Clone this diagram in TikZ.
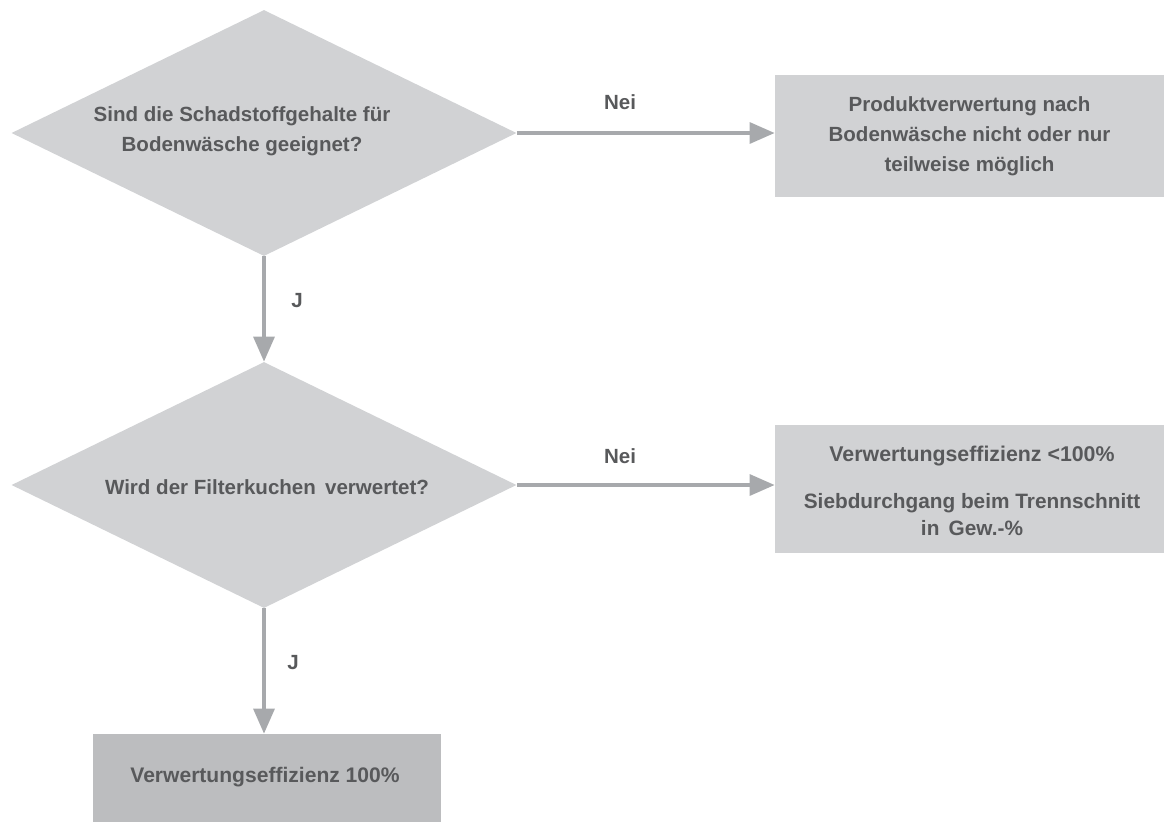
\documentclass[tikz,border=0pt]{standalone}
\usepackage{fontspec}
\setmainfont{Liberation Sans}
\usetikzlibrary{arrows.meta,shapes.geometric}
\definecolor{boxgray}{HTML}{D1D2D4}
\definecolor{darkbox}{HTML}{BCBDBF}
\definecolor{arrowgray}{HTML}{A7A9AC}
\definecolor{txtgray}{HTML}{58595B}
\tikzset{
  decision/.style={diamond, fill=boxgray, draw=none, inner sep=0pt, minimum width=378.75pt, minimum height=184.5pt},
  txt/.style={text=txtgray, font=\bfseries\fontsize{15.4}{22.5}\selectfont, align=center, inner sep=0pt},
  result/.style={rectangle, fill=boxgray, draw=none, inner sep=0pt, text=txtgray, font=\bfseries\fontsize{15.4}{22.5}\selectfont, align=center},
  flow/.style={draw=arrowgray, line width=3pt, -{Triangle[length=18.75pt,width=15.5pt]}},
  lbl/.style={text=txtgray, font=\bfseries\fontsize{15.4}{18}\selectfont, inner sep=0pt}
}
\begin{document}
\begin{tikzpicture}[x=0.75pt,y=-0.75pt]
\useasboundingbox (0,0) rectangle (1166,822);
\node[decision] (d1) at (264,133) {};
\node[txt] (t1) at (242,131) {Sind die Schadstoffgehalte für\\Bodenwäsche geeignet?};
\node[decision] (d2) at (264,485) {};
\node[txt] (t2) at (267,487) {Wird der Filterkuchen\, verwertet?};
\node[result, minimum width=291.75pt, minimum height=91.5pt] (b1) at (969.5,136) {Produktverwertung nach\\Bodenwäsche nicht oder nur\\teilweise möglich};
\node[result, minimum width=291.75pt, minimum height=96pt] (b2) at (969.5,489) {};
\node[txt, font=\bfseries\fontsize{16}{22.5}\selectfont] (t3) at (972,456) {Verwertungseffizienz <100\%};
\node[txt, font=\bfseries\fontsize{15.6}{20.2}\selectfont] (t4) at (972,515) {Siebdurchgang beim Trennschnitt\\in\, Gew.-\%};
\node[result, fill=darkbox, minimum width=261pt, minimum height=66pt] (b3) at (267,778) {};
\node[txt, font=\bfseries\fontsize{15.8}{22.5}\selectfont] (t5) at (265,777) {Verwertungseffizienz 100\%};
\coordinate (e1) at (d1.east);
\coordinate (e2) at (d2.east);
\draw[flow] (e1) -- (e1 -| b1.west);
\draw[flow] (e2) -- (e2 -| b2.west);
\draw[flow] (d1.south) -- (d2.north);
\draw[flow] (d2.south) -- (d2.south |- b3.north);
\node[lbl] (n1) at (620,102) {Nei};
\node[lbl] (n2) at (620,456) {Nei};
\node[lbl] (j1) at (297,301) {J};
\node[lbl] (j2) at (293,663) {J};
\end{tikzpicture}
\end{document}
